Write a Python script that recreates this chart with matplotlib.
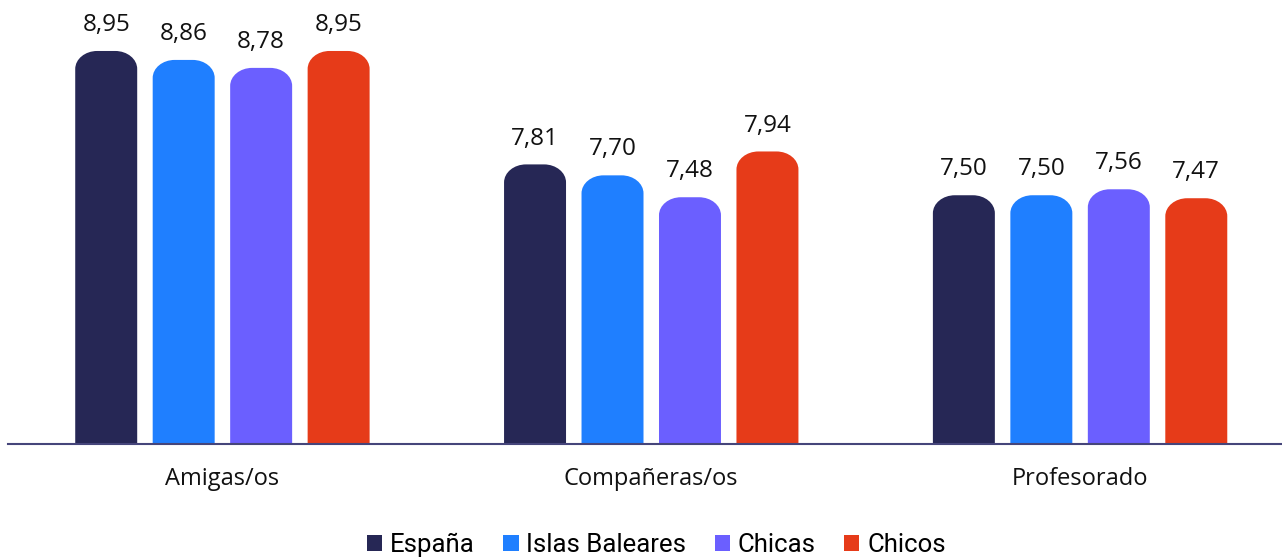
import matplotlib
matplotlib.use("Agg")
import matplotlib.pyplot as plt
from matplotlib.path import Path
from matplotlib.patches import PathPatch, Patch

# datos
categorias = ["Amigas/os", "Compañeras/os", "Profesorado"]
series = ["España", "Islas Baleares", "Chicas", "Chicos"]
espana = [8.95, 7.81, 7.50]
baleares = [8.86, 7.70, 7.50]
chicas = [8.78, 7.48, 7.56]
chicos = [8.95, 7.94, 7.47]
colores = ["#262755", "#1F7FFF", "#6B5FFF", "#E63B19"]

valores = [espana, baleares, chicas, chicos]

W, H = 1282, 557
fig = plt.figure(figsize=(W / 100, H / 100), dpi=100)
ax = fig.add_axes([8 / W, (H - 444) / H, (W - 8) / W, 444 / H])

ymin = 5.0
ax.set_ylim(ymin, ymin + 444 / 99.5)
ax.set_xlim(-0.5, 2 + (W - 1080) / 429)

px_x = 1 / 429   # unidades de categoría por píxel
px_y = 1 / 99.5  # unidades de valor por píxel
paso = 77.5 * px_x
ancho = 62 * px_x
rx = 22 * px_x
ry = 18 * px_y
k = 0.5523


def barra_redondeada(xc, top, color):
    x0 = xc - ancho / 2
    x1 = xc + ancho / 2
    verts = [
        (x0, ymin),
        (x0, top - ry),
        (x0, top - ry + k * ry), (x0 + rx - k * rx, top), (x0 + rx, top),
        (x1 - rx, top),
        (x1 - rx + k * rx, top), (x1, top - ry + k * ry), (x1, top - ry),
        (x1, ymin),
        (x0, ymin),
    ]
    codes = [Path.MOVETO, Path.LINETO,
             Path.CURVE4, Path.CURVE4, Path.CURVE4,
             Path.LINETO,
             Path.CURVE4, Path.CURVE4, Path.CURVE4,
             Path.LINETO, Path.CLOSEPOLY]
    ax.add_patch(PathPatch(Path(verts, codes), facecolor=color, edgecolor="none"))


for j, (vals, col) in enumerate(zip(valores, colores)):
    offset = (j - 1.5) * paso
    for i, v in enumerate(vals):
        xc = i + offset
        barra_redondeada(xc, v, col)
        ax.text(xc, v + 0.26, f"{v:.2f}".replace(".", ","), ha="center", va="center",
                fontsize=17.5, family="Open Sans", color="#111111")

for i, c in enumerate(categorias):
    ax.text(i, ymin - 0.35, c, ha="center", va="center", fontsize=17,
            family="Open Sans", color="#111111")

for s in ["top", "right", "left"]:
    ax.spines[s].set_visible(False)
ax.spines["bottom"].set_color("#45457a")
ax.spines["bottom"].set_linewidth(1.5)
ax.set_xticks([])
ax.set_yticks([])

handles = [Patch(facecolor=c, edgecolor="none") for c in colores]
fig.legend(handles, series, loc="center", bbox_to_anchor=(0.512, 1 - 545 / H),
           ncol=4, frameon=False, prop={"family": "Roboto", "size": 18.5},
           handlelength=0.6, handleheight=0.6, handletextpad=0.3,
           columnspacing=1.1, borderpad=0)

fig.savefig("out.png", dpi=100)
